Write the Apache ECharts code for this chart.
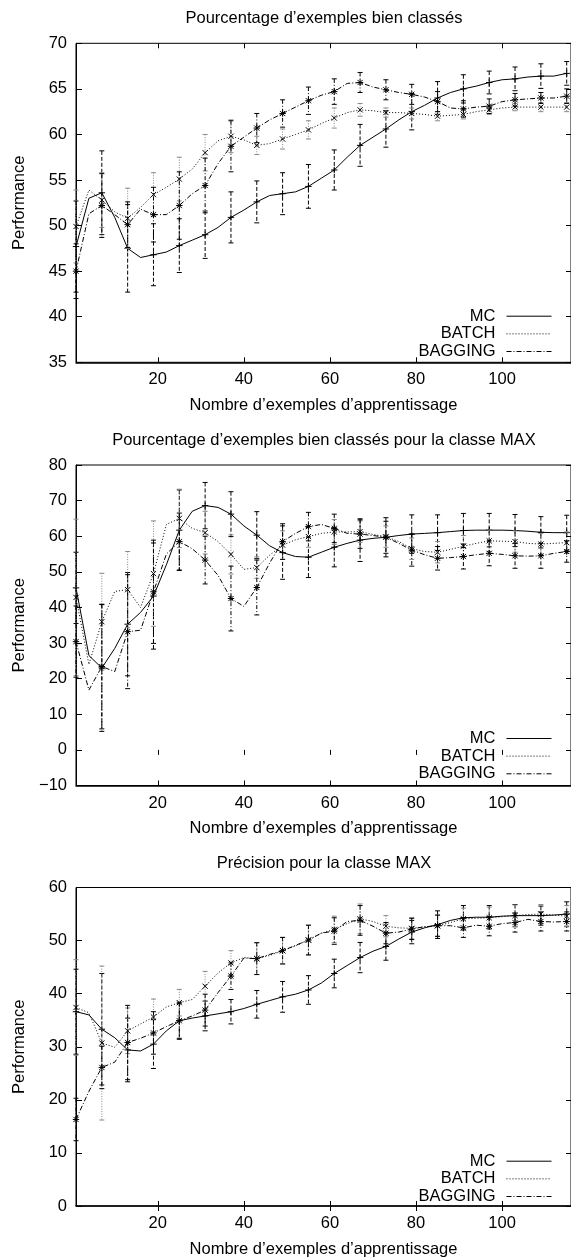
<!DOCTYPE html>
<html>
<head>
<meta charset="utf-8">
<script src="https://cdn.jsdelivr.net/npm/echarts@6/dist/echarts.min.js"></script>
<style>
html, body { margin: 0; padding: 0; background: #fff; }
#chart { width: 571px; height: 1260px; }
</style>
</head>
<body>
<div id="chart"></div>
<script>
// abscisses : courbes lues tous les 3 exemples, barres d'erreur tous les 6
var xGrid = [1, 4, 7, 10, 13, 16, 19, 22, 25, 28, 31, 34, 37, 40, 43, 46, 49, 52, 55, 58,
             61, 64, 67, 70, 73, 76, 79, 82, 85, 88, 91, 94, 97, 100, 103, 106, 109, 112, 115];
var xMarks = [1, 7, 13, 19, 25, 31, 37, 43, 49, 55, 61, 67, 73, 79, 85, 91, 97, 103, 109, 115];
var xTicks = [20, 40, 60, 80, 100];
var seriesNames = ['MC', 'BATCH', 'BAGGING'];

// graphe 1 : pourcentage d'exemples bien classes
var p1Mc = [47.7, 53.0, 53.6, 50.9, 47.5, 46.5, 46.8, 47.1, 47.8, 48.4, 49.0, 49.8, 50.9, 51.7, 52.6, 53.3, 53.5, 53.7, 54.3, 55.2,
            56.1, 57.5, 58.8, 59.7, 60.6, 61.6, 62.5, 63.2, 64.0, 64.6, 65.0, 65.3, 65.7, 66.0, 66.1, 66.3, 66.4, 66.4, 66.7];
var p1Batch = [49.9, 53.9, 52.8, 51.5, 50.8, 52.0, 53.4, 54.2, 55.1, 56.2, 58.0, 59.3, 59.8, 59.4, 58.8, 59.0, 59.5, 60.0, 60.5, 61.2,
               61.8, 62.4, 62.7, 62.6, 62.4, 62.4, 62.3, 62.2, 62.0, 62.1, 62.2, 62.5, 62.7, 62.9, 63.0, 63.0, 63.0, 63.0, 63.0];
var p1Bagging = [45.0, 51.3, 52.2, 51.2, 50.1, 51.8, 51.2, 51.2, 52.2, 53.5, 54.4, 56.8, 58.7, 59.7, 60.7, 61.6, 62.3, 63.0, 63.7, 64.3,
                 64.7, 65.6, 65.7, 65.2, 64.9, 64.6, 64.4, 64.1, 63.6, 62.9, 62.8, 63.0, 63.1, 63.6, 63.8, 63.9, 64.0, 64.0, 64.2];
var p1McErr = [5.0, 4.6, 4.8, 3.4, 2.95, 2.6, 2.8, 2.3, 2.3, 2.4, 2.2, 2.3, 2.0, 2.0, 1.8, 1.55, 1.25, 1.3, 1.35, 1.3];
var p1BatchErr = [4.0, 3.0, 3.3, 2.4, 2.4, 2.0, 1.8, 1.0, 1.1, 1.0, 1.1, 0.7, 0.5, 0.6, 0.5, 0.5, 0.5, 0.4, 0.5, 0.5];
var p1BaggingErr = [3.0, 3.5, 2.5, 3.0, 3.7, 3.0, 2.8, 1.6, 1.5, 1.5, 1.4, 1.1, 1.1, 1.1, 1.1, 0.9, 0.8, 0.7, 0.6, 0.8];

// graphe 2 : pourcentage d'exemples bien classes pour la classe MAX
var p2Mc = [45.5, 26.5, 23.0, 28.5, 35.3, 38.6, 43.2, 52.0, 61.7, 67.0, 68.6, 68.1, 66.2, 62.9, 60.3, 57.3, 55.4, 54.3, 54.1, 55.5,
            56.9, 58.0, 58.9, 59.4, 59.7, 60.2, 60.6, 60.8, 61.0, 61.3, 61.6, 61.7, 61.7, 61.7, 61.6, 61.4, 61.1, 61.0, 61.0];
var p2Batch = [42.8, 24.0, 36.0, 44.5, 45.0, 40.0, 49.5, 63.3, 65.0, 62.2, 61.0, 58.5, 54.9, 50.7, 51.2, 54.7, 57.5, 59.0, 59.9, 60.8,
               61.2, 61.2, 61.3, 60.5, 59.9, 58.5, 56.5, 55.7, 55.5, 56.3, 57.2, 58.0, 58.7, 58.6, 58.5, 58.0, 57.8, 58.0, 58.2];
var p2Bagging = [30.4, 16.8, 23.4, 22.0, 33.2, 33.6, 44.4, 55.0, 58.5, 56.5, 53.3, 49.0, 42.5, 40.3, 45.6, 52.5, 58.5, 60.8, 62.7, 63.3,
                 62.2, 60.8, 60.6, 60.2, 59.7, 58.0, 56.1, 54.8, 53.8, 54.0, 54.3, 54.8, 55.2, 54.9, 54.5, 54.4, 54.5, 55.2, 55.7];
var p2McErr = [10, 17.8, 14.5, 14.9, 11.3, 6.5, 6.3, 6.6, 7.5, 5.7, 5.5, 6.0, 5.5, 5.4, 5.0, 4.8, 4.7, 4.5, 4.4, 4.9];
var p2BatchErr = [22, 13.6, 10.7, 14.8, 8.2, 6.0, 5.5, 3.0, 4.0, 3.0, 3.5, 3.0, 3.0, 3.0, 3.0, 3.0, 3.0, 3.0, 3.0, 3.0];
var p2BaggingErr = [10, 17.5, 16, 14.5, 8, 6.7, 9.1, 7.7, 5, 4, 4, 4, 4.5, 4.5, 3.3, 3.5, 3.5, 3.5, 3.5, 3];

// graphe 3 : precision pour la classe MAX
var p3Mc = [36.6, 36.0, 33.3, 31.7, 29.4, 29.2, 30.5, 33.0, 34.9, 35.4, 35.8, 36.2, 36.6, 37.2, 38.0, 38.7, 39.4, 39.9, 40.7, 42.0,
            43.8, 45.3, 46.8, 48.0, 48.9, 50.3, 51.6, 52.4, 53.0, 53.8, 54.3, 54.4, 54.4, 54.6, 54.7, 54.7, 54.7, 54.8, 55.0];
var p3Batch = [37.4, 36.4, 30.7, 29.9, 33.0, 34.3, 35.6, 37.5, 38.3, 38.9, 41.4, 43.9, 45.8, 46.8, 46.6, 47.2, 48.1, 49.0, 50.1, 51.4,
               52.1, 53.2, 54.1, 53.6, 52.7, 52.4, 52.3, 52.6, 52.8, 53.4, 54.1, 54.2, 54.3, 54.5, 54.7, 54.9, 55.0, 54.8, 54.6];
var p3Bagging = [16.3, 21.6, 26.1, 27.1, 30.8, 31.6, 32.6, 33.8, 34.9, 35.8, 36.9, 40.2, 43.3, 46.7, 46.6, 47.4, 48.1, 49.1, 50.1, 51.4,
                 51.8, 53.6, 53.8, 52.7, 51.4, 51.6, 52.2, 52.6, 52.8, 52.8, 52.4, 52.9, 52.7, 53.2, 53.4, 54.0, 53.6, 53.5, 53.6];
var p3McErr = [8, 10.5, 6, 4.6, 3.3, 2.8, 2.3, 2.6, 2.9, 2.7, 2.7, 2.85, 2.6, 2.2, 2.6, 2.3, 2.2, 2.1, 1.8, 2.3];
var p3BatchErr = [9, 14.5, 4.3, 3.4, 2.5, 2.8, 2.3, 3.0, 2.5, 2.8, 2.5, 2.8, 2.0, 2.0, 2.0, 2.0, 2.0, 2.0, 1.8, 2.0];
var p3BaggingErr = [4, 4, 7, 4, 3.5, 3, 2.5, 3.0, 2.5, 2.8, 2.5, 2.8, 2.0, 2.0, 2.0, 1.8, 1.8, 1.8, 1.8, 1.8];

var FONT = '"Liberation Sans", Arial, Helvetica, sans-serif';
var FS = 16.5;
var GRID_LEFT = 76, GRID_WIDTH = 496;

var panels = [
  { title: 'Pourcentage d’exemples bien classés', top: 43.3, height: 319, min: 35, max: 70, step: 5, titleTop: 10, legendTop: 307.7,
    vals: [p1Mc, p1Batch, p1Bagging], errs: [p1McErr, p1BatchErr, p1BaggingErr] },
  { title: 'Pourcentage d’exemples bien classés pour la classe MAX', top: 465, height: 320.5, min: -10, max: 80, step: 10, titleTop: 432.4, legendTop: 730,
    vals: [p2Mc, p2Batch, p2Bagging], errs: [p2McErr, p2BatchErr, p2BaggingErr] },
  { title: 'Précision pour la classe MAX', top: 887.5, height: 318.5, min: 0, max: 60, step: 10, titleTop: 855, legendTop: 1152.7,
    vals: [p3Mc, p3Batch, p3Bagging], errs: [p3McErr, p3BatchErr, p3BaggingErr] }
];

// style des courbes et des barres d'erreur (MC, BATCH, BAGGING)
var lineDash = ['solid', [1, 2], [5, 2, 1, 2]];
var barStyle = [
  { color: '#000', dash: [4, 2] },
  { color: '#888', dash: [1, 1.5] },
  { color: '#000', dash: [4, 2, 1, 2] }
];
var markKind = ['plus', 'cross', 'star'];

function seg(x1, y1, x2, y2, st) {
  return { type: 'line', shape: { x1: x1, y1: y1, x2: x2, y2: y2 }, style: st };
}

function makeBars(k) {
  return function (params, api) {
    var x = api.value(0), y = api.value(1), e = api.value(2);
    var p = api.coord([x, y]);
    var hi = api.coord([x, y + e]);
    var lo = api.coord([x, y - e]);
    var bs = { stroke: barStyle[k].color, lineWidth: 1, lineDash: barStyle[k].dash, fill: null };
    var cs = { stroke: barStyle[k].color, lineWidth: 1, fill: null };
    var ms = { stroke: '#000', lineWidth: 1, fill: null };
    var cap = 2.5, r = 3.2, d = 2.6;
    var kids = [
      seg(hi[0], hi[1], lo[0], lo[1], bs),
      seg(hi[0] - cap, hi[1], hi[0] + cap, hi[1], cs),
      seg(lo[0] - cap, lo[1], lo[0] + cap, lo[1], cs)
    ];
    if (markKind[k] !== 'cross') {
      kids.push(seg(p[0] - r, p[1], p[0] + r, p[1], ms));
      kids.push(seg(p[0], p[1] - r, p[0], p[1] + r, ms));
    }
    if (markKind[k] !== 'plus') {
      kids.push(seg(p[0] - d, p[1] - d, p[0] + d, p[1] + d, ms));
      kids.push(seg(p[0] - d, p[1] + d, p[0] + d, p[1] - d, ms));
    }
    return { type: 'group', children: kids };
  };
}

// centrage des titres au-dessus du cadre
var measure = document.createElement('canvas').getContext('2d');
measure.font = FS + 'px ' + FONT;
var plotCenter = GRID_LEFT + GRID_WIDTH / 2;

var option = {
  animation: false,
  backgroundColor: '#fff',
  title: [], grid: [], xAxis: [], yAxis: [], legend: [], series: []
};

panels.forEach(function (p, g) {
  var w = measure.measureText(p.title).width;
  option.title.push({
    text: p.title, left: plotCenter - w / 2, top: p.titleTop, padding: 0,
    textStyle: { fontSize: FS, fontWeight: 'normal', color: '#000', fontFamily: FONT }
  });
  option.grid.push({
    left: GRID_LEFT, width: GRID_WIDTH, top: p.top, height: p.height,
    show: true, borderColor: '#000', borderWidth: 1, backgroundColor: 'transparent'
  });
  option.xAxis.push({
    gridIndex: g, type: 'value', min: 1, max: 116, position: 'bottom',
    axisLine: { show: true, onZero: false, lineStyle: { color: '#000', width: 1.5 } },
    axisTick: { inside: true, length: 5, customValues: xTicks, lineStyle: { color: '#000' } },
    axisLabel: { customValues: xTicks, margin: 9, fontSize: FS, color: '#000', fontFamily: FONT },
    splitLine: { show: false },
    name: 'Nombre d’exemples d’apprentissage', nameLocation: 'middle', nameGap: 34.5,
    nameTextStyle: { fontSize: FS, color: '#000', fontFamily: FONT }
  });
  option.xAxis.push({
    gridIndex: g, type: 'value', min: 1, max: 116, position: 'top',
    axisLine: { show: false },
    axisTick: { inside: true, length: 5, customValues: xTicks, lineStyle: { color: '#000' } },
    axisLabel: { show: false }, splitLine: { show: false }
  });
  option.yAxis.push({
    gridIndex: g, type: 'value', min: p.min, max: p.max, interval: p.step, position: 'left',
    axisLine: { show: true, onZero: false, lineStyle: { color: '#000', width: 1 } },
    axisTick: { inside: true, length: 6, lineStyle: { color: '#000' } },
    axisLabel: {
      margin: 9, fontSize: FS, color: '#000', fontFamily: FONT,
      formatter: function (v) { return v < 0 ? '\u2212' + Math.abs(v) : String(v); }
    },
    splitLine: { show: false },
    name: 'Performance', nameLocation: 'middle', nameRotate: 90, nameGap: 48,
    nameTextStyle: { fontSize: FS, color: '#000', fontFamily: FONT }
  });
  option.yAxis.push({
    gridIndex: g, type: 'value', min: p.min, max: p.max, interval: p.step, position: 'right',
    axisLine: { show: false },
    axisTick: { inside: true, length: 5, lineStyle: { color: '#000' } },
    axisLabel: { show: false }, splitLine: { show: false }
  });
  option.legend.push({
    data: seriesNames, orient: 'vertical', align: 'right', right: 19, top: p.legendTop,
    itemWidth: 45, itemHeight: 10, itemGap: 0.65, padding: 0, selectedMode: false,
    itemStyle: { opacity: 0 },
    lineStyle: { color: '#000', width: 1 },
    textStyle: { fontSize: FS, lineHeight: 16, color: '#000', fontFamily: FONT, padding: [0, 6, 0, 0] }
  });
  seriesNames.forEach(function (name, k) {
    var vals = p.vals[k];
    option.series.push({
      type: 'line', name: name, xAxisIndex: g * 2, yAxisIndex: g * 2,
      data: xGrid.map(function (x, i) { return [x, vals[i]]; }),
      symbol: 'none', silent: true, z: 2,
      itemStyle: { color: '#000' },
      lineStyle: { color: '#000', width: 1, type: lineDash[k] }
    });
  });
  seriesNames.forEach(function (name, k) {
    var vals = p.vals[k], errs = p.errs[k];
    option.series.push({
      type: 'custom', name: name, xAxisIndex: g * 2, yAxisIndex: g * 2,
      data: xMarks.map(function (x, j) { return [x, vals[j * 2], errs[j]]; }),
      renderItem: makeBars(k), silent: true, z: 3,
      itemStyle: { color: '#000' }
    });
  });
});

var myChart = echarts.init(document.getElementById('chart'));
myChart.setOption(option);
</script>
</body>
</html>
